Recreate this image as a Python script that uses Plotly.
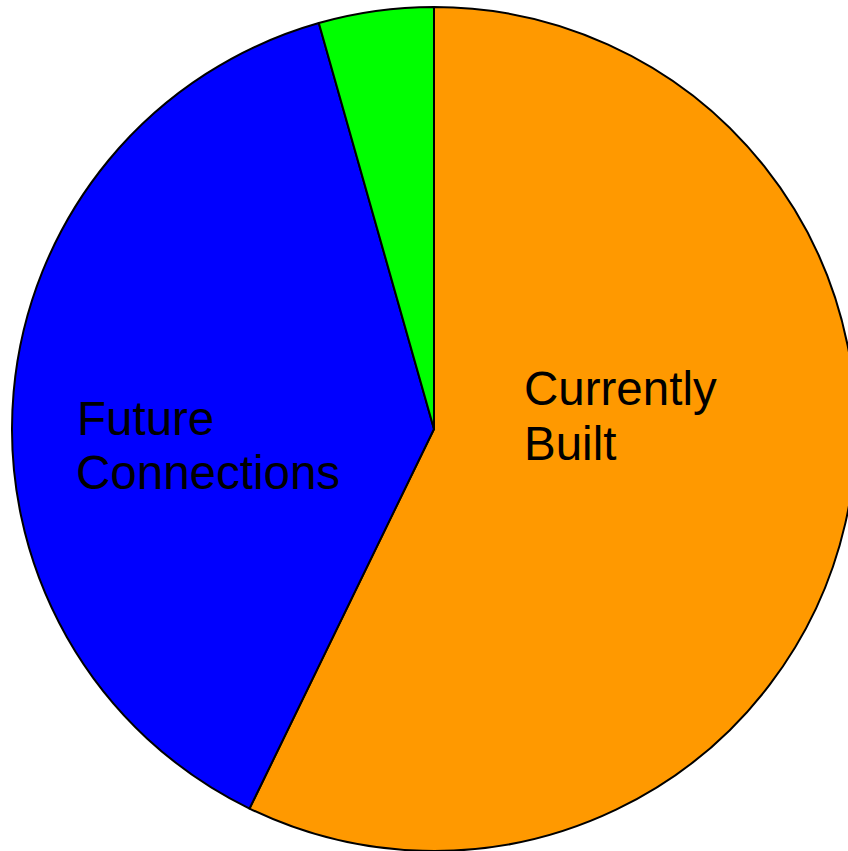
import plotly.graph_objects as go

labels = ["Currently Built", "Future Connections", "Other"]
values = [57.2, 38.4, 4.4]
colors = ["#FF9900", "#0000FF", "#00FF00"]

W, H = 868, 851
cx, cy, r = 434, 429, 422

fig = go.Figure(go.Pie(
    labels=labels,
    values=values,
    sort=False,
    direction="clockwise",
    rotation=0,
    textinfo="none",
    hoverinfo="label+percent",
    marker=dict(colors=colors, line=dict(color="black", width=2)),
    domain=dict(x=[(cx - r) / W, (cx + r) / W], y=[1 - (cy + r) / H, 1 - (cy - r) / H]),
    showlegend=False,
))

font = dict(family="Liberation Sans, Arial, sans-serif", size=47.5, color="black")
text_lines = [
    ("Future", 75, 436),
    ("Connections", 74, 490),
    ("Currently", 522, 406),
    ("Built", 522, 461),
]
for t, x, yb in text_lines:
    fig.add_annotation(text=t, x=x / W, y=1 - (yb + 11) / H, xref="paper", yref="paper",
                       xanchor="left", yanchor="bottom", showarrow=False, font=font)

fig.update_layout(width=W, height=H, margin=dict(l=0, r=0, t=0, b=0),
                  paper_bgcolor="white", plot_bgcolor="white")
fig.write_html("out.html", post_script="document.body.style.overflow='hidden';document.body.style.margin='0';")
